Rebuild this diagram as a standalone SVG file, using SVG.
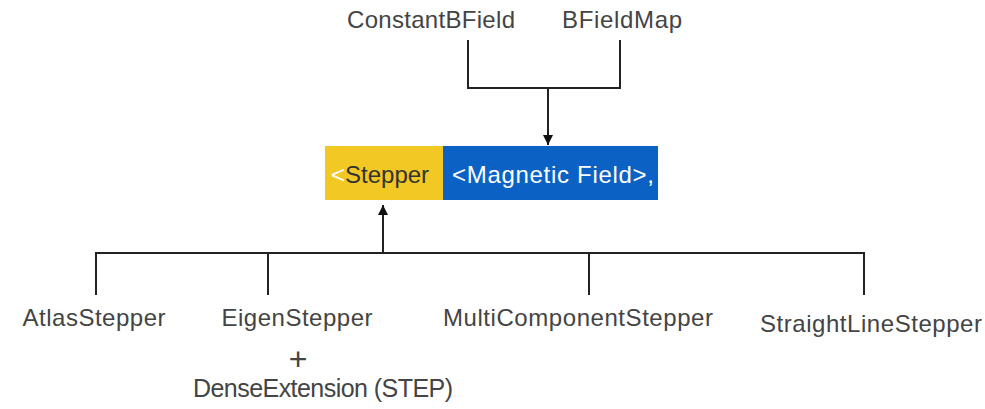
<svg xmlns="http://www.w3.org/2000/svg" width="985" height="409" viewBox="0 0 985 409">
<defs>
<style>
.lbl{font-family:"Liberation Sans",Arial,sans-serif;font-size:24px;fill:#444;text-anchor:middle}
.ln{stroke:#222;stroke-width:2;fill:none}
.bx{font-family:"Liberation Sans",Arial,sans-serif;font-size:24px}
</style>
<marker id="ah" viewBox="0 0 10 10" refX="10" refY="5" markerWidth="5" markerHeight="5" orient="auto"><path d="M0,0L10,5L0,10z" fill="#111"/></marker>
</defs>
<rect width="985" height="409" fill="#fff"/>
<g id="connectors">
<path class="ln" d="M468,40V88H620V40"/>
<path class="ln" d="M548,88V145" marker-end="url(#ah)"/>
<path class="ln" d="M96,295V253H864V295M268,253V295M589,253V295"/>
<path class="ln" d="M383,253V205" marker-end="url(#ah)"/>
</g>
<g id="constantbfield"><text class="lbl" x="431" y="28" textLength="168">ConstantBField</text></g>
<g id="bfieldmap"><text class="lbl" x="622" y="28" textLength="120">BFieldMap</text></g>
<g id="stepper">
<rect x="325" y="146" width="118" height="54" fill="#f2c824"/>
<rect x="443" y="146" width="215" height="54" fill="#0b62c4"/>
<text x="331" y="183" class="bx"><tspan fill="#fff">&lt;</tspan><tspan fill="#333">Stepper</tspan></text>
<text x="452" y="183" fill="#fff" class="bx" textLength="202">&lt;Magnetic Field&gt;,</text>
</g>
<g id="atlasstepper"><text class="lbl" x="94" y="326" textLength="143">AtlasStepper</text></g>
<g id="eigenstepper">
<text class="lbl" x="297" y="326" textLength="151">EigenStepper</text>
<text class="lbl" x="298" y="370" style="font-size:32px">+</text>
<text class="lbl" x="323" y="397" style="font-size:25px" textLength="260">DenseExtension (STEP)</text>
</g>
<g id="multicomponentstepper"><text class="lbl" x="578" y="326" textLength="270">MultiComponentStepper</text></g>
<g id="straightlinestepper"><text class="lbl" x="871" y="332" textLength="222">StraightLineStepper</text></g>
</svg>
